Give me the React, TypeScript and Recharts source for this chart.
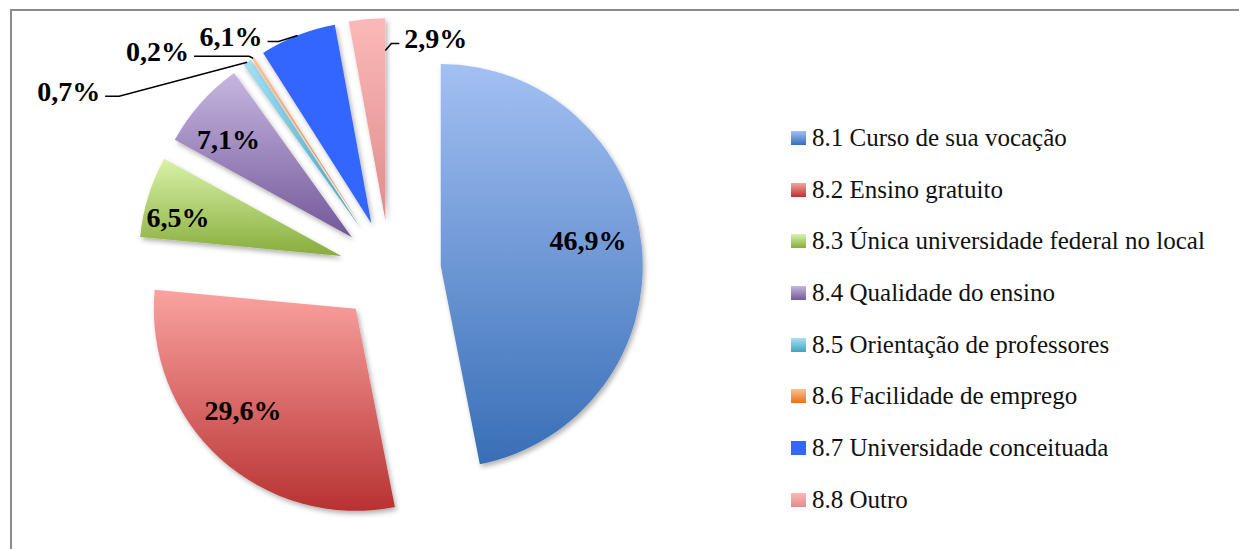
import React from "react";
import { PieChart, Pie, Cell, Sector, Legend } from "recharts";

const categories = [
  "8.1 Curso de sua vocação",
  "8.2 Ensino gratuito",
  "8.3 Única universidade federal no local",
  "8.4 Qualidade do ensino",
  "8.5 Orientação de professores",
  "8.6 Facilidade de emprego",
  "8.7 Universidade conceituada",
  "8.8 Outro",
];

const percentages = [46.9, 29.6, 6.5, 7.1, 0.7, 0.2, 6.1, 2.9];

const data = categories.map((name, i) => ({ name, value: percentages[i] }));

// top / bottom colours of each slice gradient
const gradients = [
  ["#A3C0F3", "#386EB6"],
  ["#FAA3A0", "#B83232"],
  ["#D9F2A8", "#88AD3C"],
  ["#C6B6E0", "#735899"],
  ["#A8E0F4", "#41A4C2"],
  ["#FCC291", "#E6721A"],
  ["#3366FF", "#3366FF"],
  ["#FCB8B8", "#DE8D8D"],
];

const EXPLODE = 51;
const RAD = Math.PI / 180;

// label placement: inside slices or outside with a leader line
const labelSpots: any[] = [
  { kind: "in", f: 0.475, r: 0.74 },
  { kind: "in", f: 0.556, r: 0.75 },
  { kind: "in", f: 0.33, r: 0.83 },
  { kind: "in", f: 0.38, r: 0.78 },
  { kind: "out", f: 0.5, r: 1.0, elbow: [-128, 34], run: -14 },
  { kind: "out", f: 0.5, r: 1.0, elbow: [-4, -2], run: -55 },
  { kind: "out", f: 0.5, r: 1.0, elbow: [-19, 6], run: -11 },
  { kind: "out", f: 1.0, r: 0.84, elbow: [6, -7], run: 8 },
];

const fmt = (v: number) => v.toFixed(1).replace(".", ",") + "%";

function explode(cx: number, cy: number, midAngle: number) {
  return [cx + EXPLODE * Math.cos(midAngle * RAD), cy - EXPLODE * Math.sin(midAngle * RAD)];
}

function ExplodedSector(props: any) {
  const [ex, ey] = explode(props.cx, props.cy, props.midAngle);
  return <Sector {...props} cx={ex} cy={ey} stroke="none" filter="url(#sliceShadow)" />;
}

const labelFont = { fontFamily: "Liberation Serif", fontWeight: 700, fontSize: 28 };

function renderLabel(props: any) {
  const { cx, cy, midAngle, startAngle, endAngle, outerRadius, index, value } = props;
  const spot = labelSpots[index];
  const [ex, ey] = explode(cx, cy, midAngle);
  const a = (startAngle + spot.f * (endAngle - startAngle)) * RAD;
  const px = ex + outerRadius * spot.r * Math.cos(a);
  const py = ey - outerRadius * spot.r * Math.sin(a);
  if (spot.kind === "in") {
    return (
      <text key={index} x={px} y={py} textAnchor="middle" dominantBaseline="central" fill="#000" style={labelFont}>
        {fmt(value)}
      </text>
    );
  }
  const bx = px + spot.elbow[0];
  const by = py + spot.elbow[1];
  const tx = bx + spot.run;
  const left = spot.run < 0;
  return (
    <g key={index}>
      <polyline points={`${px},${py} ${bx},${by} ${tx},${by}`} fill="none" stroke="#000" strokeWidth={1.5} />
      <text
        x={left ? tx - 5 : tx + 5}
        y={by - 5}
        textAnchor={left ? "end" : "start"}
        dominantBaseline="central"
        fill="#000"
        style={labelFont}
      >
        {fmt(value)}
      </text>
    </g>
  );
}

function renderLegend() {
  return (
    <div style={{ fontFamily: "Liberation Serif", fontSize: 25, color: "#111" }}>
      {categories.map((name, i) => (
        <div key={name} style={{ display: "flex", alignItems: "center", height: 51.7, whiteSpace: "nowrap" }}>
          <span
            style={{
              display: "inline-block",
              width: 15,
              height: 14,
              marginRight: 6,
              background: `linear-gradient(${gradients[i][0]}, ${gradients[i][1]})`,
            }}
          />
          {name}
        </div>
      ))}
    </div>
  );
}

export default function App() {
  return (
    <div style={{ paddingTop: 1, paddingLeft: 2 }}>
      <div
        style={{
          width: 1237,
          height: 540,
          borderTop: "2px solid #8c8c8c",
          borderLeft: "2px solid #8c8c8c",
          background: "#fff",
          position: "relative",
        }}
      >
        <svg width={0} height={0} style={{ position: "absolute" }}>
          <defs>
            {gradients.map(([top, bottom], i) => (
              <linearGradient key={i} id={`sliceGrad${i}`} x1="0" y1="0" x2="0" y2="1">
                <stop offset="0%" stopColor={top} />
                <stop offset="100%" stopColor={bottom} />
              </linearGradient>
            ))}
            <filter id="sliceShadow" x="-20%" y="-20%" width="140%" height="140%">
              <feDropShadow dx={2} dy={3} stdDeviation={2.5} floodColor="#000" floodOpacity={0.3} />
            </filter>
          </defs>
        </svg>
        <PieChart width={1235} height={538} margin={{ top: 0, right: 0, bottom: 0, left: 0 }}>
          <Pie
            data={data}
            dataKey="value"
            nameKey="name"
            cx={378}
            cy={260}
            outerRadius={202}
            startAngle={90}
            endAngle={-270}
            stroke="none"
            shape={ExplodedSector}
            label={renderLabel}
            labelLine={false}
            isAnimationActive={false}
          >
            {data.map((d, i) => (
              <Cell key={d.name} fill={`url(#sliceGrad${i})`} />
            ))}
          </Pie>
          <Legend
            layout="vertical"
            content={renderLegend}
            wrapperStyle={{ left: 779, top: 101, width: 450 }}
          />
        </PieChart>
      </div>
    </div>
  );
}
